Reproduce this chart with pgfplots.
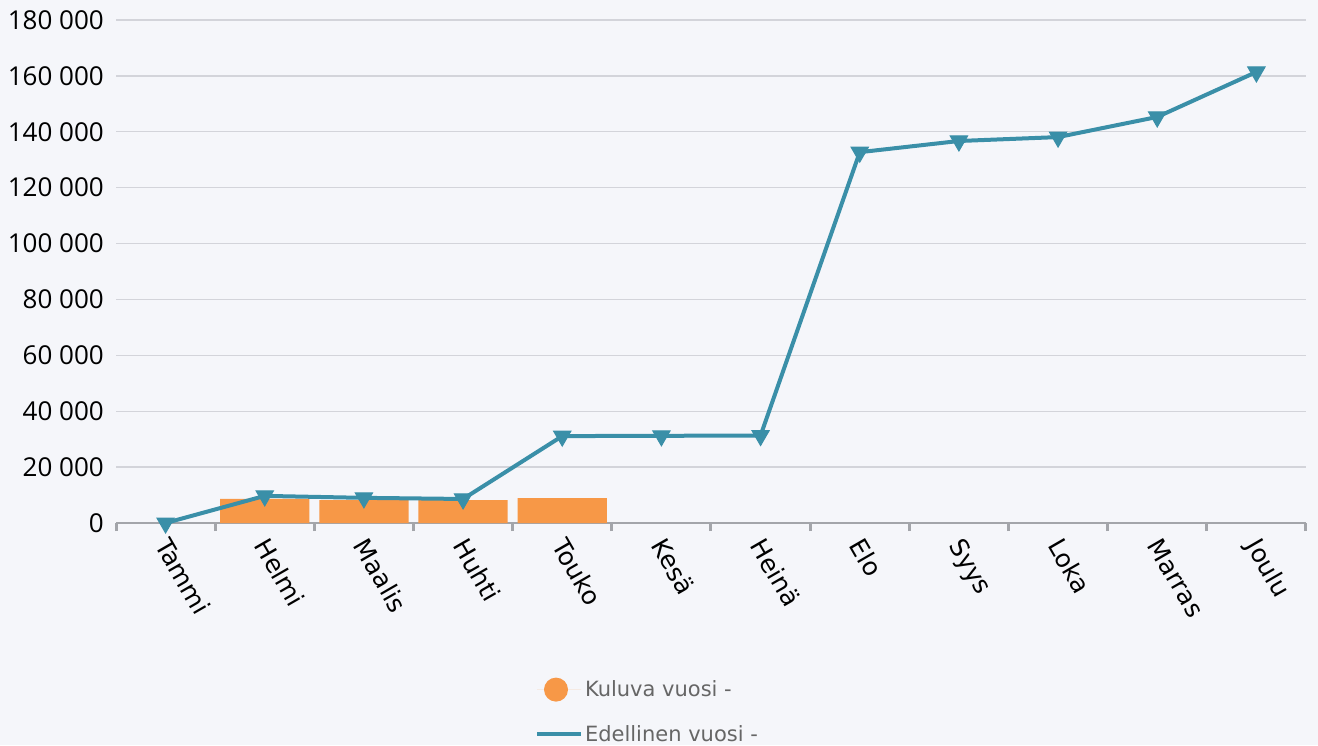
\documentclass[border=0pt]{standalone}
\usepackage{pgfplots}
\pgfplotsset{compat=1.18}
\usepackage{fontspec}
\setmainfont{DejaVu Sans}
\newfontfamily\tickfont{Open Sans}
\definecolor{bg}{HTML}{F5F6FA}
\definecolor{barorange}{HTML}{F79847}
\definecolor{lineblue}{HTML}{3A8FA8}
\definecolor{gridc}{HTML}{D3D4DA}
\definecolor{axisc}{HTML}{A3A5AA}
\definecolor{legtext}{HTML}{666666}
\begin{document}
\begin{tikzpicture}
\useasboundingbox[fill=bg] (0pt,0pt) rectangle (1318pt,745pt);
\begin{axis}[
  at={(116pt,222pt)}, anchor=south west,
  scale only axis, width=1190pt, height=503pt,
  xmin=-0.5, xmax=11.5, ymin=0, ymax=180000,
  scaled y ticks=false,
  axis x line*=bottom, axis y line*=left,
  y axis line style={draw=none},
  x axis line style={color=axisc, line width=2pt},
  ytick={0,20000,...,180000},
  yticklabels={0,{20 000},{40 000},{60 000},{80 000},{100 000},{120 000},{140 000},{160 000},{180 000}},
  ymajorgrids, grid style={color=gridc, line width=1.3pt},
  major tick length=0pt,
  xtick={0,...,11},
  xticklabels={Tammi,Helmi,Maalis,Huhti,Touko,Kesä,Heinä,Elo,Syys,Loka,Marras,Joulu},
  minor xtick={-0.5,0.5,...,11.5},
  minor tick length=8pt, tick align=outside,
  minor x tick style={color=axisc, line width=3pt},
  yticklabel style={font=\tickfont\fontsize{26}{30}\selectfont, anchor=east, inner sep=0pt, xshift=-12pt},
  xticklabel style={font=\fontsize{25}{29}\selectfont, anchor=north west, inner sep=0pt, xshift=5.5pt, yshift=-13pt, rotate=-60},
  legend style={at={(0.4466,-0.303)}, anchor=north, draw=none, fill=none,
    font=\fontsize{21}{25}\selectfont\color{legtext}, row sep=22pt},
  legend cell align=left,
  clip=false,
]
\addplot[ybar, bar width=0.9, fill=barorange, draw=none,
  legend image code/.code={\path (0,0) -- (44pt,0); \fill[barorange] (19pt,0) circle (12pt);}]
  coordinates {(1,8600)(2,8200)(3,8200)(4,8900)};
\addlegendentry{Kuluva vuosi -}
\addplot[color=lineblue, line width=4pt, mark=triangle*, mark size=10pt,
  mark options={rotate=180, solid, line width=1pt},
  legend image code/.code={\path (0,0) -- (44pt,0); \draw[lineblue, line width=4pt] (0,0) -- (36pt,0);}]
  coordinates {(0,0)(1,9700)(2,9000)(3,8600)(4,31100)(5,31200)(6,31300)(7,132700)(8,136700)(9,138100)(10,145300)(11,161400)};
\addlegendentry{Edellinen vuosi -}
\end{axis}
\end{tikzpicture}
\end{document}
